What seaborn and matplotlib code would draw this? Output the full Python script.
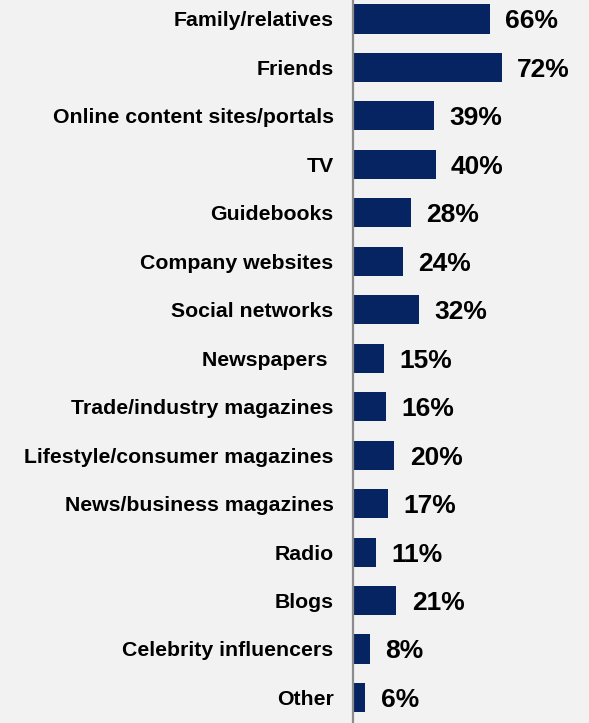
import matplotlib
matplotlib.use("Agg")
import matplotlib.pyplot as plt
import seaborn as sns
import pandas as pd

categories = [
    "Family/relatives", "Friends", "Online content sites/portals", "TV",
    "Guidebooks", "Company websites", "Social networks", "Newspapers ",
    "Trade/industry magazines", "Lifestyle/consumer magazines",
    "News/business magazines", "Radio", "Blogs", "Celebrity influencers",
    "Other",
]
values = [66, 72, 39, 40, 28, 24, 32, 15, 16, 20, 17, 11, 21, 8, 6]

df = pd.DataFrame({"source": categories, "share": values})

sns.set_style("white")
plt.rcParams["font.family"] = ["Liberation Sans", "DejaVu Sans"]

bg = "#F2F2F2"
bar_color = "#062462"

fig = plt.figure(figsize=(5.89, 7.23), dpi=100, facecolor=bg)
W, H = 589, 723
left_px, right_px = 353, 589
ax = fig.add_axes([left_px / W, 0, (right_px - left_px) / W, 1])
ax.set_facecolor(bg)

sns.barplot(data=df, x="share", y="source", orient="h", color=bar_color,
            width=0.6, saturation=1, linewidth=0, ax=ax)

# 2.07 px per percentage point
ax.set_xlim(0, (right_px - left_px) / 2.07)
first_center, pitch = 19.0, 48.46
ax.set_ylim((H - first_center) / pitch, -first_center / pitch)

for i, v in enumerate(values):
    ax.annotate(f"{v}%", xy=(v, i), xytext=(11, 0), textcoords="offset points",
                va="center_baseline", ha="left", fontsize=19,
                fontweight="bold", color="black")

ax.set_xlabel("")
ax.set_ylabel("")
ax.set_xticks([])
ax.tick_params(axis="y", length=0, pad=14)
for lab in ax.get_yticklabels():
    lab.set_fontsize(15.3)
    lab.set_fontweight("bold")
    lab.set_color("black")

for side in ["top", "right", "bottom"]:
    ax.spines[side].set_visible(False)
ax.spines["left"].set_color("#8C8C8C")
ax.spines["left"].set_linewidth(1.6)

fig.savefig("out.png", dpi=100, facecolor=bg)
